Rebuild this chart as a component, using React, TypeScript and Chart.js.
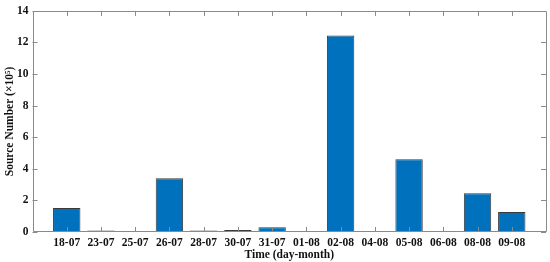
import React, { useEffect, useRef } from "react";
import { Chart, registerables } from "chart.js";

Chart.register(...registerables);

const categories = ["18-07", "23-07", "25-07", "26-07", "28-07", "30-07", "31-07", "01-08", "02-08", "04-08", "05-08", "06-08", "08-08", "09-08"];
const sourceNumbers = [1.52, 0.1, 0, 3.4, 0.1, 0.13, 0.3, 0, 12.45, 0, 4.6, 0.07, 2.45, 1.26];
const yTicks = [0, 2, 4, 6, 8, 10, 12, 14];

const FONT = "'Liberation Serif', 'Times New Roman', serif";
const AXIS_COLOR = "#8a8a8a";

const boxPlugin = {
  id: "matlabBox",
  afterDraw(chart: any) {
    const { ctx, chartArea, scales } = chart;
    const { left, right, top, bottom } = chartArea;
    ctx.save();
    ctx.strokeStyle = AXIS_COLOR;
    ctx.lineWidth = 1;
    ctx.beginPath();
    ctx.rect(Math.round(left) + 0.5, Math.round(top) + 0.5, Math.round(right - left) - 1, Math.round(bottom - top) - 1);
    ctx.stroke();
    const tl = 5;
    ctx.beginPath();
    categories.forEach((_, i) => {
      const x = Math.round(scales.x.getPixelForValue(i + 1)) + 0.5;
      ctx.moveTo(x, bottom);
      ctx.lineTo(x, bottom - tl);
      ctx.moveTo(x, top);
      ctx.lineTo(x, top + tl);
    });
    yTicks.forEach((v) => {
      const y = Math.round(scales.y.getPixelForValue(v)) + 0.5;
      ctx.moveTo(left, y);
      ctx.lineTo(left + tl, y);
      ctx.moveTo(right, y);
      ctx.lineTo(right - tl, y);
    });
    ctx.stroke();
    ctx.restore();
  },
};

export default function App() {
  const ref = useRef<HTMLCanvasElement>(null);
  useEffect(() => {
    if (!ref.current) return;
    const chart = new Chart(ref.current, {
      type: "bar",
      data: {
        datasets: [
          {
            data: sourceNumbers.map((v, i) => ({ x: i + 1, y: v })),
            backgroundColor: "#0072BD",
            borderColor: "#3a3a3a",
            borderWidth: 1,
            barPercentage: 0.8,
            categoryPercentage: 1,
          },
        ],
      },
      options: {
        animation: false,
        responsive: false,
        maintainAspectRatio: false,
        layout: { padding: { top: 7, right: 4, left: 0, bottom: 0 } },
        plugins: { legend: { display: false }, tooltip: { enabled: false } },
        scales: {
          x: {
            type: "linear",
            min: 0,
            max: 15,
            offset: false,
            grid: { display: false, drawTicks: false, offset: false },
            border: { display: false },
            afterFit: (s: any) => {
              s.height = 30;
            },
            ticks: {
              stepSize: 1,
              autoSkip: false,
              maxRotation: 0,
              padding: 4,
              color: "#111",
              font: { family: FONT, size: 11.5, weight: "bold" },
              callback: (v: any) => (v >= 1 && v <= categories.length ? categories[v - 1] : ""),
            },
            title: {
              display: true,
              text: "Time (day-month)",
              color: "#111",
              font: { family: FONT, size: 11.5, weight: "bold" },
              padding: { top: 1, bottom: 0 },
            },
          },
          y: {
            min: 0,
            max: 14,
            grid: { display: false, drawTicks: false },
            border: { display: false },
            afterFit: (s: any) => {
              s.width = 32.5;
            },
            ticks: {
              stepSize: 2,
              padding: 4,
              color: "#111",
              font: { family: FONT, size: 11.5, weight: "bold" },
            },
            title: {
              display: true,
              text: "Source Number (×10⁵)",
              color: "#111",
              font: { family: FONT, size: 11.5, weight: "bold" },
              padding: { top: 3, bottom: 0 },
            },
          },
        },
      },
      plugins: [boxPlugin],
    });
    return () => chart.destroy();
  }, []);
  return (
    <div style={{ position: "absolute", left: 0, top: 0, width: 550, height: 262, background: "#fff" }}>
      <canvas ref={ref} width={550} height={262} style={{ width: 550, height: 262 }} />
    </div>
  );
}
